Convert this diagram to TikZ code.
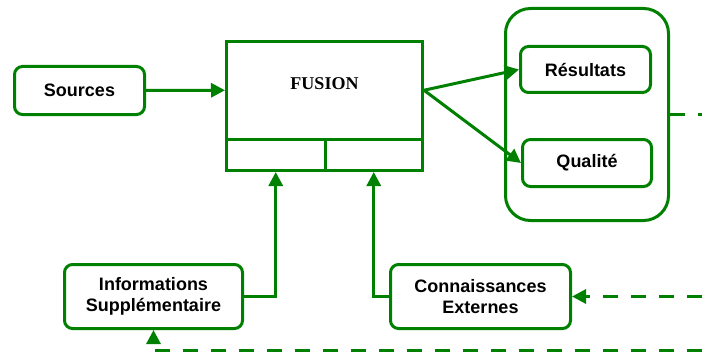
\documentclass[tikz,border=0pt]{standalone}
\usepackage{fontspec}
\setmainfont{Liberation Sans}
\newfontfamily\serifbf{Liberation Serif}
\usetikzlibrary{arrows.meta}
\definecolor{fusgreen}{RGB}{0,128,0}
\tikzset{
  box/.style={draw=fusgreen, line width=3pt, rounded corners=8pt, fill=white, align=center, inner sep=0pt,
    font=\fontsize{18}{21}\selectfont\bfseries},
  cell/.style={draw=fusgreen, line width=3pt, inner sep=0pt, fill=white},
  group/.style={draw=fusgreen, line width=3pt, rounded corners=25pt, inner sep=0pt},
  link/.style={draw=fusgreen, line width=3pt, -{Triangle[length=14pt,width=14pt]}},
  feedback/.style={link, dash pattern=on 15pt off 13pt}
}

\begin{document}
\begin{tikzpicture}[x=1pt, y=-1pt]
  \useasboundingbox (0,0) rectangle (702,353);

  % fusion block with its two input cells
  \node[cell, minimum width=196pt, minimum height=97.5pt] (fusion) at (324.5,90.25) {};
  \node[font=\fontsize{18}{21}\serifbf\bfseries] (fusiontext) at (324.5,84) {FUSION};
  \node[cell, minimum width=98.5pt, minimum height=31.5pt] (cellL) at (275.75,154.75) {};
  \node[cell, minimum width=97.5pt, minimum height=31.5pt] (cellR) at (373.75,154.75) {};

  % inputs
  \node[box, minimum width=130pt, minimum height=48pt] (sources) at (79.5,90.5) {Sources};
  \node[box, minimum width=178pt, minimum height=64pt] (info) at (153.5,296.5) {Informations\\Suppl\'ementaire};
  \node[box, minimum width=180pt, minimum height=64pt] (conn) at (480.5,296.5) {Connaissances\\Externes};

  % outputs
  \node[group, minimum width=163pt, minimum height=212pt] (sortie) at (587,114.5) {};
  \node[box, minimum width=130pt, minimum height=46pt] (res) at (585.5,69.5) {R\'esultats};
  \node[box, minimum width=129pt, minimum height=47pt] (qual) at (587,163) {Qualit\'e};

  \coordinate (outA) at (702,114.5);
  \coordinate (outB) at (702,296.5);
  \coordinate (outC) at (702,350);

  \draw[link] (sources) -- (fusion.west);
  \draw[link] (fusion.east) -- (res.west);
  \draw[link] (fusion.east) -- (qual.west);
  \draw[link] (info.east) -| (cellL.south);
  \draw[link] (conn.west) -| (cellR.south);

  % feedback
  \draw[draw=fusgreen, line width=3pt, dash pattern=on 15pt off 13pt] (sortie.east) -- (outA);
  \draw[feedback] (outB) -- (conn.east);
  \draw[feedback] (outC) -| (info.south);
\end{tikzpicture}
\end{document}
